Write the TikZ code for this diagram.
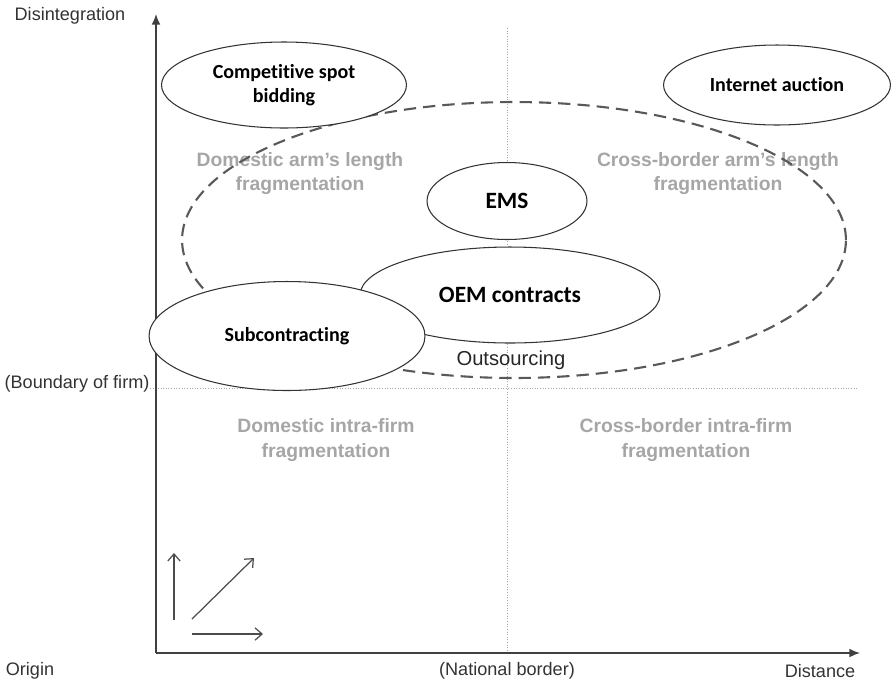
\documentclass[tikz,border=0pt]{standalone}
\usepackage{fontspec}
\setmainfont{Liberation Sans}
\newfontfamily\calibrifont[Ligatures=NoCommon]{Carlito}
\usetikzlibrary{shapes.geometric, arrows.meta}

\tikzset{
  firm/.style={ellipse, draw=black!80, fill=white, line width=0.6pt, inner sep=0pt,
    align=center, font=\calibrifont\bfseries\fontsize{11.4}{13.7}\selectfont},
  bigfirm/.style={firm, font=\calibrifont\bfseries\fontsize{13.3}{15}\selectfont},
  region/.style={text=black!35, align=center, font=\bfseries\fontsize{11}{13.7}\selectfont},
  axislabel/.style={text=black!80, font=\fontsize{10.3}{12}\selectfont},
  guide/.style={black!35, densely dotted, line width=0.5pt},
  axis/.style={black!75, line width=0.9pt, -{Latex[length=6pt,width=5pt]}},
  hint/.style={black!70, line width=0.7pt, -{Straight Barb[length=4pt,width=7pt]}},
}

\begin{document}
\begin{tikzpicture}[x=0.02cm, y=-0.02cm]
        \useasboundingbox (0,0) rectangle (891,684);
        \coordinate (origin) at (156,653);
        \coordinate (ytip) at (156,14);
        \coordinate (xtip) at (860,653);
        \coordinate (bordertop) at (507,28);
        \coordinate (borderbot) at (507,653);
        \coordinate (firmleft) at (150,388);
        \coordinate (firmright) at (858,388);

        % guides and axes
        \draw [guide] (bordertop) -- (borderbot);
        \draw [guide] (firmleft) -- (firmright);
        \draw [axis] (origin) -- (ytip);
        \draw [axis] (origin) -- (xtip);

        \node [axislabel] (disint) at (70,16) {Disintegration};
        \node [axislabel] (boundary) at (77,384) {(Boundary of firm)};
        \node [axislabel] (orig) at (30,671) {Origin};
        \node [axislabel] (national) at (507,671) {(National border)};
        \node [axislabel] (dist) at (820,671) {Distance};

        % the four quadrants
        \node [region] (domarm) at (300,174) {Domestic arm's length\\fragmentation};
        \node [region] (crossarm) at (718,174) {Cross-border arm's length\\fragmentation};
        \node [region] (domintra) at (326,440) {Domestic intra-firm\\fragmentation};
        \node [region] (crossintra) at (686,440) {Cross-border intra-firm\\fragmentation};

        \draw [black!65, line width=1.2pt, dash pattern=on 7pt off 4pt]
            (514,240) ellipse [x radius=6.64cm, y radius=2.76cm];

        \node [firm, minimum width=4.9cm, minimum height=1.72cm] (spot) at (284,85) {Competitive spot\\bidding};
        \node [firm, minimum width=4.54cm, minimum height=1.6cm] (auction) at (777,85) {Internet auction};
        \node [bigfirm, minimum width=3.2cm, minimum height=1.54cm] (ems) at (507,201) {EMS};
        \node [bigfirm, minimum width=6cm, minimum height=1.92cm] (oem) at (510,295) {OEM contracts};
        \node [firm, minimum width=5.52cm, minimum height=2.18cm] (subcon) at (287,336) {Subcontracting};
        \node [font=\fontsize{11.5}{13}\selectfont, text=black!85] (outsrc) at (511,360) {Outsourcing};

        % direction hints
        \draw [hint] (174,620) -- (174,553);
        \draw [hint] (192,619) -- (254,558);
        \draw [hint] (192,634) -- (263,634);
    \end{tikzpicture}
\end{document}
